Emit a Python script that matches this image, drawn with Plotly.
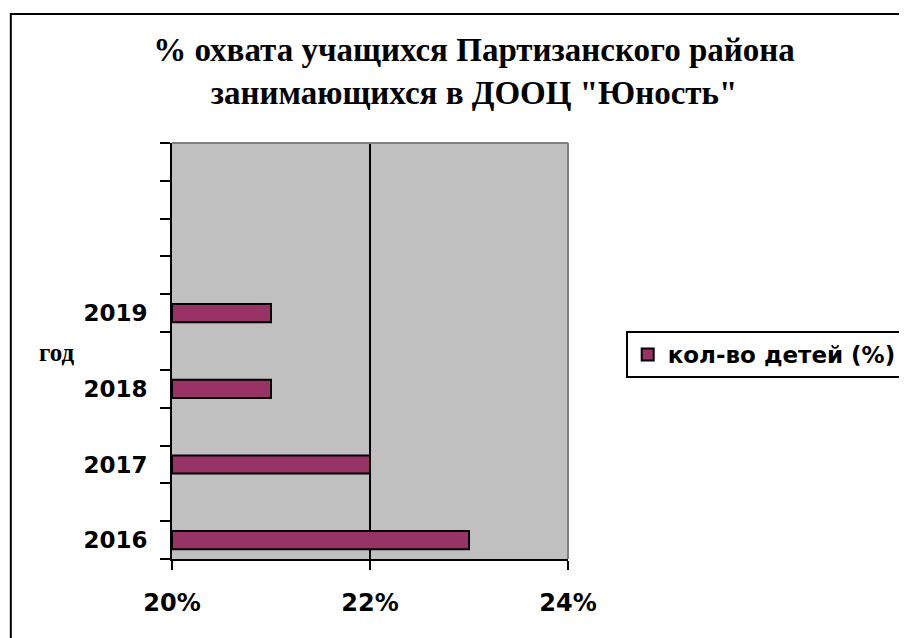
import plotly.graph_objects as go

# Data
years = ["2016", "2017", "2018", "2019"]
values = [23, 22, 21, 21]
# category slots on the axis (blank slots keep the original spacing)
category_slots = ["2016", " ", "2017", "  ", "2018", "   ", "2019",
                  "    ", "     ", "      ", "       "]
x_ticks = [20, 22, 24]
x_ticktext = ["20%", "22%", "24%"]
axis_min = 20
series_name = "кол-во детей (%)"
title_text = "% охвата учащихся Партизанского района<br>занимающихся в ДООЦ \"Юность\""
y_title = "год"

fig = go.Figure()
fig.add_trace(go.Bar(
    x=[v - axis_min for v in values], y=years, orientation="h", name=series_name,
    base=axis_min, width=0.48,
    marker=dict(color="#993366", line=dict(color="black", width=2)),
))

fig.update_layout(
    width=907, height=638,
    paper_bgcolor="white", plot_bgcolor="#C0C0C0",
    margin=dict(l=164, r=345, t=135, b=87),
    title=dict(text=title_text, x=(474-8)/907, xanchor="center",
               y=1 - 53/638, yanchor="top", yref="container",
               font=dict(family="Liberation Serif", size=33, color="black", weight="bold")),
    showlegend=True,
    legend=dict(x=(628-172)/398, y=(559-331)/416, xanchor="left", yanchor="top",
                bgcolor="white", bordercolor="black", borderwidth=2,
                font=dict(family="DejaVu Sans", size=23, color="black", weight="bold")),
    xaxis=dict(range=[20, 24], tickvals=x_ticks, ticktext=x_ticktext,
               showgrid=True, gridcolor="black", gridwidth=2,
               showline=True, linecolor="black", linewidth=2,
               ticks="outside", ticklen=9, tickwidth=2, tickcolor="black",
               ticklabelstandoff=12, zeroline=False,
               tickfont=dict(family="DejaVu Sans", size=24, color="black", weight="bold")),
    yaxis=dict(type="category", categoryorder="array", categoryarray=category_slots,
               range=[-0.5, 10.5], tickson="boundaries",
               showgrid=False, showline=True, linecolor="black", linewidth=2,
               ticks="outside", ticklen=10, tickwidth=2, tickcolor="black",
               ticklabelstandoff=18,
               tickfont=dict(family="DejaVu Sans", size=23, color="black", weight="bold")),
    shapes=[
        dict(type="line", xref="paper", yref="paper", x0=0, x1=1, y0=1, y1=1,
             line=dict(color="#808080", width=2), layer="above"),
        dict(type="line", xref="paper", yref="paper", x0=1, x1=1, y0=0, y1=1,
             line=dict(color="#808080", width=2), layer="above"),
        dict(type="rect", xref="paper", yref="paper",
             x0=(10-172)/398, x1=2.5, y0=-1, y1=(559-14)/416,
             line=dict(color="black", width=2), fillcolor="rgba(0,0,0,0)", layer="below"),
    ],
    annotations=[
        dict(text=y_title, xref="paper", yref="paper", x=(56-172)/398, y=(559-352)/416,
             showarrow=False, xanchor="center", yanchor="middle",
             font=dict(family="Liberation Serif", size=25, color="black", weight="bold")),
    ],
)

fig.write_html("out.html")
